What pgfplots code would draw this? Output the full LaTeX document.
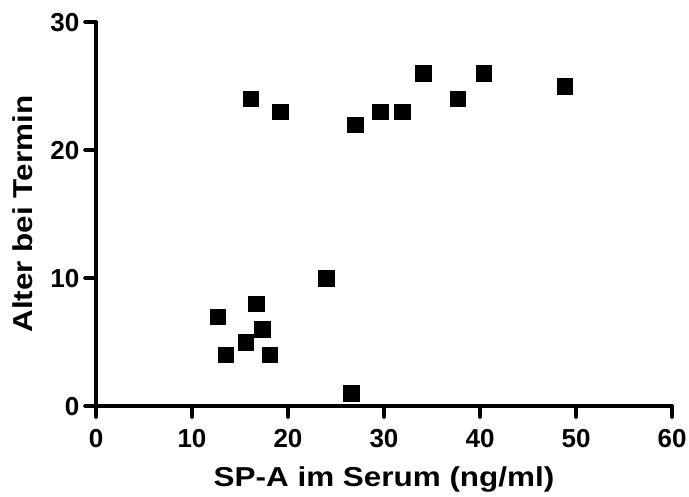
\documentclass[border=0pt]{standalone}
\usepackage{fontspec}
\setmainfont{Liberation Sans}
\newfontfamily\labelfont{Liberation Sans}[FakeStretch=1.15]
\usepackage{pgfplots}
\pgfplotsset{compat=1.18}
\begin{document}
\begin{tikzpicture}
\begin{axis}[
  width=432pt, height=288pt, scale only axis,
  xmin=0, xmax=60, ymin=0, ymax=30,
  axis x line*=bottom, axis y line*=left,
  axis line style={line width=3.2pt, black},
  xtick={0,10,...,60}, ytick={0,10,20,30},
  minor tick num=0,
  tick align=outside,
  major tick length=8pt,
  tick style={line width=3.2pt, black, line cap=round},
  /pgf/number format/assume math mode=true,
  xticklabel style={font=\fontsize{19.5}{22}\selectfont\bfseries, inner sep=0pt},
  yticklabel style={font=\fontsize{19.5}{22}\selectfont\bfseries, inner sep=0pt},
  xticklabel shift=9pt,
  yticklabel shift=4.3pt,
  xlabel={SP-A im Serum (ng/ml)},
  ylabel={Alter bei Termin},
  every axis x label/.style={at={(axis description cs:0.5,-0.2097)}, anchor=base, font=\labelfont\bfseries\fontsize{20.5}{24}\selectfont},
  every axis y label/.style={at={(axis description cs:-0.110,0.5)}, rotate=90, anchor=base, font=\labelfont\bfseries\fontsize{20.5}{24}\selectfont},
  clip=false,
]
\addplot[only marks, mark=square*, mark size=5.8pt, mark options={fill=black, draw=black, line width=0.3pt}]
  coordinates {
  (12.7,7) (13.5,4) (15.6,5) (16.7,8) (17.3,6) (18.1,4)
  (24.0,10) (26.6,1)
  (16.1,24) (19.2,23) (27.0,22) (29.6,23) (31.9,23)
  (34.1,26) (37.7,24) (40.4,26) (48.8,25)
  };
\coordinate (ll) at (rel axis cs:0,0);
\coordinate (ur) at (rel axis cs:1,1);
\end{axis}
\pgfresetboundingbox
\path[use as bounding box] ([xshift=-72pt,yshift=-68.1pt]ll) rectangle ([xshift=12.75pt,yshift=16.6pt]ur);
\end{tikzpicture}
\end{document}
